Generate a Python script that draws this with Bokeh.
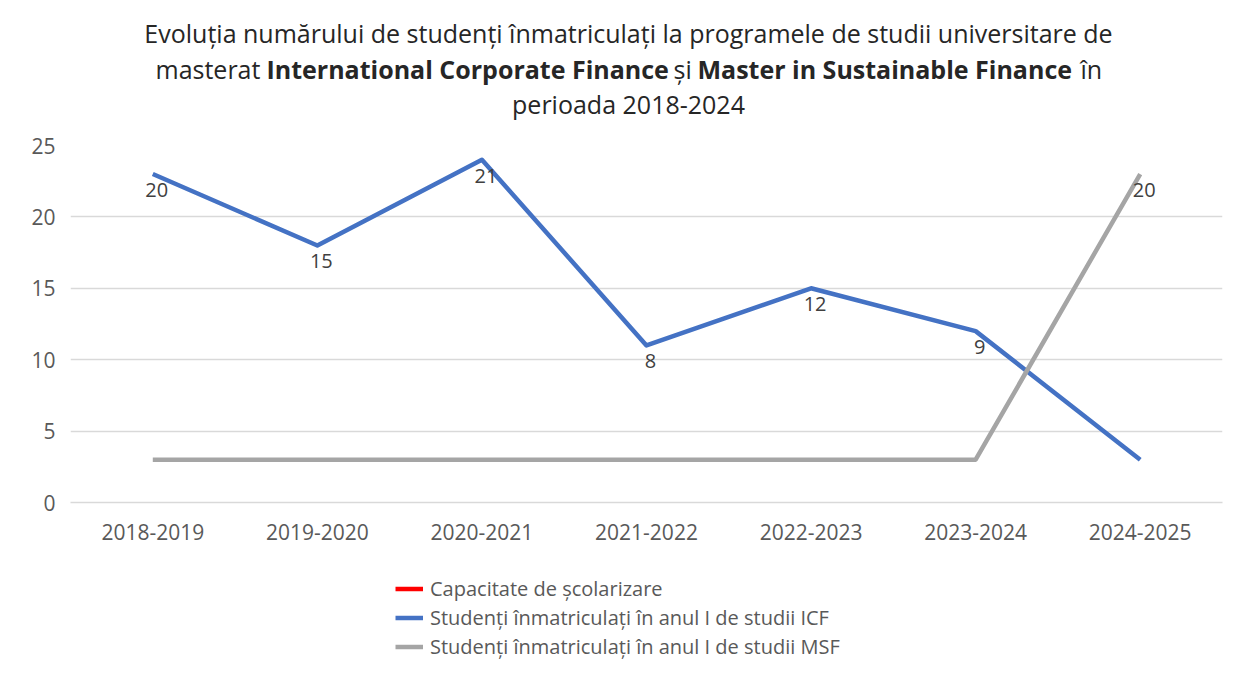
from bokeh.plotting import figure
from bokeh.layouts import column
from bokeh.models import (FactorRange, Range1d, FixedTicker, Label, Legend, LegendItem,
                          ColumnDataSource)
from bokeh.core.properties import value
from bokeh.embed import file_html
from bokeh.resources import INLINE

# ---- data ----
years = ["2018-2019", "2019-2020", "2020-2021", "2021-2022", "2022-2023", "2023-2024", "2024-2025"]
icf_line = [23, 18, 24, 11, 15, 12, 3]          # plotted height of the ICF line
icf_labels = [20, 15, 21, 8, 12, 9, None]         # data labels shown on the ICF line
msf_line = [3, 3, 3, 3, 3, 3, 23]                 # plotted height of the MSF line
msf_labels = [None, None, None, None, None, None, 20]
capacity = [float("nan")]                         # legend entry only, nothing drawn
y_ticks = [0, 5, 10, 15, 20, 25]

series_names = ["Capacitate de școlarizare",
                "Studenți înmatriculați în anul I de studii ICF",
                "Studenți înmatriculați în anul I de studii MSF"]

title_line1 = "Evoluția numărului de studenți înmatriculați la programele de studii universitare de"
title_line2 = [("masterat", False), ("International Corporate Finance", True), ("și", False),
               ("Master in Sustainable Finance", True), ("în", False)]
title_line3 = "perioada 2018-2024"

FONT = "Open Sans"
BLUE, GRAY, RED = "#4472C4", "#A5A5A5", "#FF0000"
W = 1230
TH = 125      # title strip height
MH = 427      # main chart height
LH = 116      # legend strip height


def blank(height):
    f = figure(width=W, height=height, x_range=Range1d(0, W), y_range=Range1d(height, 0),
               output_backend="svg", toolbar_location=None, frame_align=False,
               min_border_left=0, min_border_right=0, min_border_top=0, min_border_bottom=0)
    f.axis.visible = False
    f.grid.visible = False
    f.outline_line_color = None
    return f


# ---------------- title strip ----------------
t = blank(TH)


def tl(text, x, y, bold=False, align="left"):
    t.add_layout(Label(x=x, y=y, text=text, text_font=FONT, text_font_size="25px",
                       text_font_style="bold" if bold else "normal",
                       text_color="#262626", text_align=align, text_baseline="middle"))


tl(title_line1, 628, 32, align="center")
seg_x = [155, 266, 673, 697, 1080]
for (txt, b), sx in zip(title_line2, seg_x):
    tl(txt, sx, 68, bold=b)
tl(title_line3, 628, 103, align="center")

# ---------------- main chart ----------------
p = figure(x_range=FactorRange(factors=years, range_padding=0), y_range=Range1d(0, 25),
           width=W, height=MH, output_backend="svg", toolbar_location=None, frame_align=False,
           min_border_left=70, min_border_right=8, min_border_top=20, min_border_bottom=50)
p.outline_line_color = None

p.yaxis.ticker = FixedTicker(ticks=y_ticks)
for ax in (p.xaxis[0], p.yaxis[0]):
    ax.major_tick_line_color = None
    ax.minor_tick_line_color = None
    ax.major_label_text_font = FONT
    ax.major_label_text_font_size = "21px"
    ax.major_label_text_color = "#595959"
p.yaxis.axis_line_color = None
p.yaxis.major_label_standoff = 9
p.xaxis.axis_line_color = "#D9D9D9"
p.xaxis.axis_line_width = 1.5
p.xaxis.major_label_standoff = 15
p.xgrid.grid_line_color = None
p.ygrid.grid_line_color = "#D9D9D9"
p.ygrid.grid_line_width = 1.5

icf_r = p.line(x=years, y=icf_line, line_color=BLUE, line_width=4.5, line_join="round")
msf_r = p.line(x=years, y=msf_line, line_color=GRAY, line_width=4.5, line_join="round")

lx, ly, lt = [], [], []
for yr, yv, lab in list(zip(years, icf_line, icf_labels)) + list(zip(years, msf_line, msf_labels)):
    if lab is not None:
        lx.append(yr); ly.append(yv); lt.append(str(lab))
src = ColumnDataSource(dict(x=lx, y=ly, t=lt))
p.text(x="x", y="y", text="t", source=src, text_font=value(FONT), text_font_size="20px",
       text_color="#404040", text_align="center", text_baseline="middle",
       x_offset=4, y_offset=16)

# ---------------- legend strip ----------------
lg = blank(LH)
leg_colors = [RED, BLUE, GRAY]
leg_renderers = [lg.line(x=capacity, y=capacity, line_color=c, line_width=4.5) for c in leg_colors]
legend = Legend(items=[LegendItem(label=n, renderers=[r]) for n, r in zip(series_names, leg_renderers)],
                location=(395, 7), orientation="vertical",
                label_text_font=FONT, label_text_font_size="20px", label_text_color="#595959",
                glyph_width=28, glyph_height=29, label_height=29, label_standoff=7,
                spacing=0, padding=0, margin=0, border_line_color=None,
                background_fill_alpha=0)
lg.add_layout(legend, "center")

open("out.html", "w").write(file_html(column(t, p, lg, spacing=0), INLINE))
